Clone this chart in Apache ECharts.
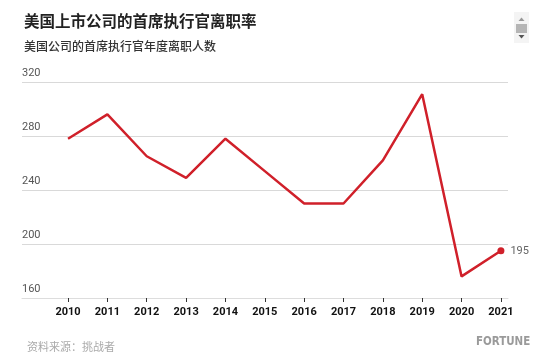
<!DOCTYPE html>
<html>
<head>
<meta charset="utf-8">
<script src="https://cdn.jsdelivr.net/npm/echarts@6/dist/echarts.min.js"></script>
<style>
html,body{margin:0;padding:0;background:#fff;}
#c{width:554px;height:362px;}
</style>
</head>
<body>
<div id="c"></div>
<script>
const years = [2010, 2011, 2012, 2013, 2014, 2015, 2016, 2017, 2018, 2019, 2020, 2021];
const departures = [278, 296, 265, 249, 278, 254, 230, 230, 262, 311, 176, 195];
const yTicks = [160, 200, 240, 280, 320];

const CJK = '"Noto Sans CJK SC", "Noto Sans", sans-serif';
const chart = echarts.init(document.getElementById('c'), null, {renderer: 'canvas'});
const lastIdx = years.length - 1;

chart.setOption({
  backgroundColor: '#ffffff',
  animation: false,
  grid: {left: 22, right: 46, top: 82, bottom: 64, containLabel: false},
  title: [
    {text: '美国上市公司的首席执行官离职率', left: 19, top: 8,
     textStyle: {fontFamily: CJK, fontSize: 15.5, fontWeight: 'bold', color: '#222'}},
    {text: '美国公司的首席执行官年度离职人数', left: 19, top: 35,
     textStyle: {fontFamily: CJK, fontSize: 12, fontWeight: 500, color: '#333'}},
    {text: '资料来源：挑战者', left: 22, top: 336,
     textStyle: {fontFamily: CJK, fontSize: 11, fontWeight: 'normal', color: '#aaa'}}
  ],
  xAxis: {
    type: 'value',
    min: 2008.83,
    max: 2021.18,
    splitLine: {show: false},
    axisLine: {show: true, onZero: false, lineStyle: {color: '#ddd', width: 1}},
    axisTick: {show: true, customValues: years, length: 4, lineStyle: {color: '#333', width: 1}},
    axisLabel: {
      customValues: years,
      formatter: v => String(v),
      margin: 9,
      fontFamily: 'Roboto, sans-serif',
      fontWeight: 'bold',
      fontSize: 11,
      color: '#111'
    }
  },
  yAxis: {
    type: 'value',
    min: yTicks[0],
    max: yTicks[yTicks.length - 1],
    interval: 40,
    axisLine: {show: false},
    axisTick: {show: false},
    splitLine: {lineStyle: {color: '#d9d9d9', width: 1}},
    axisLabel: {
      inside: true,
      verticalAlign: 'bottom',
      align: 'left',
      margin: 0,
      padding: [0, 0, 3, 0],
      fontFamily: 'Roboto, sans-serif',
      fontSize: 11,
      color: '#555'
    }
  },
  series: [{
    type: 'line',
    data: years.map((y, i) => ({
      value: [y, departures[i]],
      symbol: i === lastIdx ? 'circle' : 'none',
      symbolSize: i === lastIdx ? 7 : 0,
      label: i === lastIdx ? {show: true, position: 'right', distance: 6,
        formatter: p => String(p.value[1]), color: '#666', fontSize: 11,
        fontFamily: 'Roboto, sans-serif'} : {show: false}
    })),
    showSymbol: true,
    lineStyle: {color: '#d0202a', width: 2.5},
    itemStyle: {color: '#d0202a'},
    emphasis: {disabled: true}
  }],
  graphic: [
    {type: 'rect', shape: {x: 514, y: 12, width: 15, height: 31}, style: {fill: '#f4f4f4'}},
    {type: 'polygon', shape: {points: [[518.5, 21], [524.5, 21], [521.5, 17.5]]}, style: {fill: '#999'}},
    {type: 'rect', shape: {x: 516, y: 24, width: 11, height: 9}, style: {fill: '#b5b5b5'}},
    {type: 'polygon', shape: {points: [[518.5, 35], [524.5, 35], [521.5, 38.5]]}, style: {fill: '#555'}},
    {type: 'text', x: 476, y: 335, scaleX: 0.88, scaleY: 1,
     style: {text: 'FORTUNE', fill: '#9a9a9a', font: 'bold 13px "DejaVu Sans Condensed", sans-serif'}}
  ]
});
</script>
</body>
</html>
